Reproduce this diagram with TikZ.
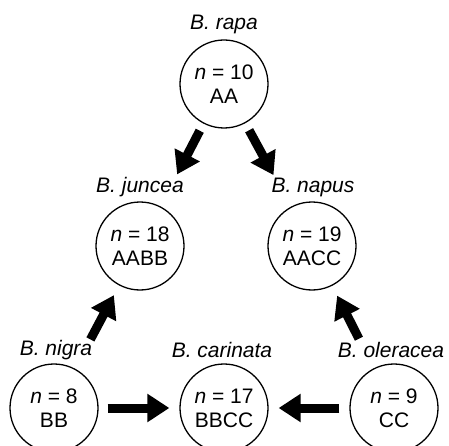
\documentclass[tikz,border=0pt]{standalone}
\usepackage{fontspec}
\setmainfont{Liberation Sans}
\usetikzlibrary{arrows.meta}
\begin{document}
\begin{tikzpicture}[x=1pt,y=-1pt,
  sp/.style={circle,draw,line width=1.3pt,minimum size=88pt,inner sep=0pt,align=center,font=\fontsize{21}{24}\selectfont},
  lab/.style={font=\fontsize{21}{24}\selectfont\itshape,inner sep=0pt},
  bigarrow/.style={line width=9pt,-{Triangle[length=22pt,width=27pt]}}]
\useasboundingbox (0,0) rectangle (449,446);
\node[sp] (rapa) at (224,84) {\textit{n} = 10\\AA};
\node[sp] (juncea) at (140,246) {\textit{n} = 18\\AABB};
\node[sp] (napus) at (312,246) {\textit{n} = 19\\AACC};
\node[sp] (nigra) at (54,408) {\textit{n} = 8\\BB};
\node[sp] (carinata) at (224,408) {\textit{n} = 17\\BBCC};
\node[sp] (oleracea) at (394,408) {\textit{n} = 9\\CC};
\node[lab] (lrapa) at (224,24) {B. rapa};
\node[lab] (ljuncea) at (140,187) {B. juncea};
\node[lab] (lnapus) at (313,187) {B. napus};
\node[lab] (lnigra) at (56,350) {B. nigra};
\node[lab] (lcarinata) at (222,350) {B. carinata};
\node[lab] (loleracea) at (391,350) {B. oleracea};
\draw[bigarrow,shorten <=8pt,shorten >=36pt] (rapa) -- (juncea);
\draw[bigarrow,shorten <=8pt,shorten >=36pt] (rapa) -- (napus);
\draw[bigarrow,shorten <=33pt,shorten >=11pt] (nigra) -- (juncea);
\draw[bigarrow,shorten <=33pt,shorten >=11pt] (oleracea) -- (napus);
\draw[bigarrow,shorten <=9pt,shorten >=10pt] (nigra) -- (carinata);
\draw[bigarrow,shorten <=10pt,shorten >=10pt] (oleracea) -- (carinata);
\end{tikzpicture}
\end{document}
